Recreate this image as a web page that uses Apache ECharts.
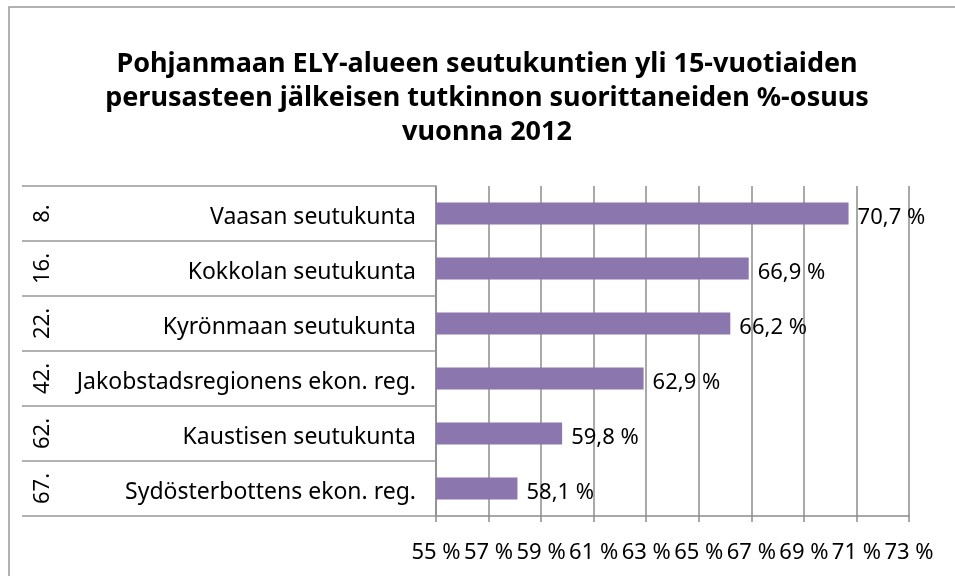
<!DOCTYPE html>
<html>
<head>
<meta charset="utf-8">
<script src="https://cdn.jsdelivr.net/npm/echarts@6/dist/echarts.min.js"></script>
<style>
  html, body { margin: 0; padding: 0; background: #fff; }
  #chart { width: 955px; height: 576px; }
</style>
</head>
<body>
<div id="chart"></div>
<script>
var regions = ['Vaasan seutukunta', 'Kokkolan seutukunta', 'Kyrönmaan seutukunta',
  'Jakobstadsregionens ekon. reg.', 'Kaustisen seutukunta', 'Sydösterbottens ekon. reg.'];
var ranks = ['8.', '16.', '22.', '42.', '62.', '67.'];
var shares = [70.7, 66.9, 66.2, 62.9, 59.8, 58.1];
var axisMin = 55;
var axisMax = 73;
var axisStep = 2;

var fontName = '"Noto Sans", "Open Sans", sans-serif';
var chart = echarts.init(document.getElementById('chart'));

chart.setOption({
  backgroundColor: '#fff',
  animation: false,
  title: {
    text: 'Pohjanmaan ELY-alueen seutukuntien yli 15-vuotiaiden\nperusasteen jälkeisen tutkinnon suorittaneiden %-osuus\nvuonna 2012',
    left: 487,
    textAlign: 'center',
    top: 47,
    padding: 0,
    textStyle: { fontFamily: fontName, fontSize: 27, fontWeight: 'bold', color: '#000', lineHeight: 34 }
  },
  graphic: [{
    type: 'rect',
    shape: { x: 9, y: 7, width: 960, height: 600 },
    style: { fill: null, stroke: '#999', lineWidth: 1.5 },
    silent: true
  }],
  grid: { left: 436, right: 46, top: 186, bottom: 60, outerBoundsMode: 'none' },
  xAxis: {
    type: 'value',
    min: axisMin,
    max: axisMax,
    interval: axisStep,
    axisLine: { show: true, lineStyle: { color: '#8c8c8c', width: 1.5 } },
    axisTick: { show: true, length: 6, lineStyle: { color: '#8c8c8c', width: 1.5 } },
    splitLine: { show: true, lineStyle: { color: '#8c8c8c', width: 1.5 } },
    axisLabel: {
      margin: 26,
      fontFamily: fontName, fontSize: 22, color: '#000',
      formatter: function (v) { return v + ' %'; }
    }
  },
  yAxis: [{
    type: 'category',
    data: regions,
    inverse: true,
    axisLine: { show: true, lineStyle: { color: '#8c8c8c', width: 1.5 } },
    axisTick: { show: true, length: 414, lineStyle: { color: '#999', width: 1.5 } },
    axisLabel: {
      margin: 20,
      formatter: function (v) { return '{n|' + v + '}'; },
      rich: { n: { fontFamily: fontName, fontSize: 23, color: '#000', padding: [8, 0, 0, 0] } }
    }
  }, {
    type: 'category',
    data: ranks,
    inverse: true,
    position: 'left',
    offset: 374,
    axisLine: { show: false },
    axisTick: { show: false },
    axisLabel: { margin: 8, rotate: 90, fontFamily: fontName, fontSize: 22, color: '#000' }
  }],
  series: [{
    type: 'bar',
    data: shares,
    barWidth: 22,
    itemStyle: { color: '#8c76ae' },
    label: {
      show: true,
      position: 'right',
      distance: 9,
      offset: [0, 4],
      fontFamily: fontName, fontSize: 22, color: '#000',
      formatter: function (p) { return p.value.toFixed(1).replace('.', ',') + ' %'; }
    }
  }]
});
</script>
</body>
</html>
